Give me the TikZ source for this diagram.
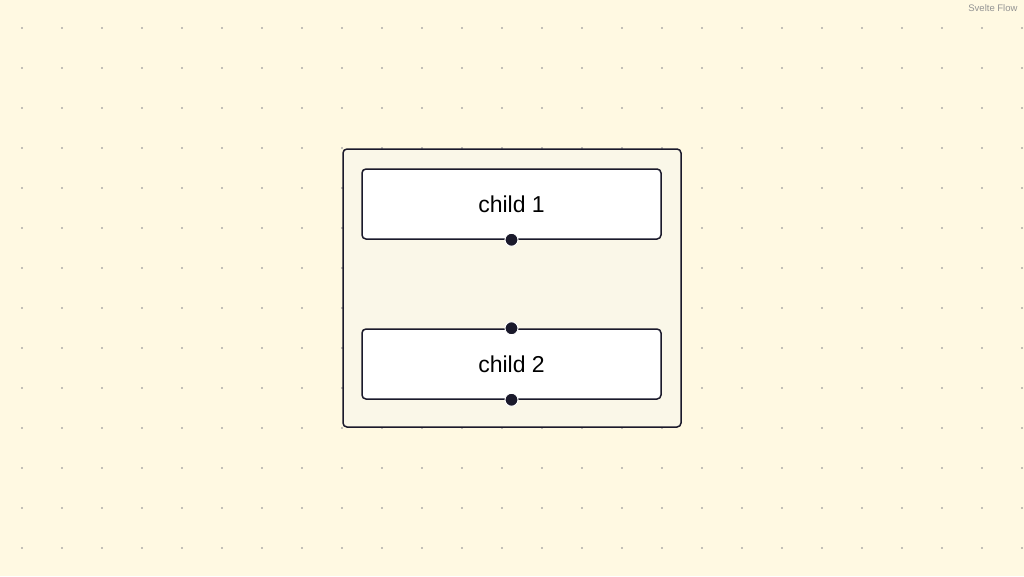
\documentclass[tikz,border=0pt]{standalone}
\usepackage{fontspec}
\setmainfont{Liberation Sans}
\usetikzlibrary{positioning}
\definecolor{canvas}{HTML}{FFF9E2}
\definecolor{groupfill}{HTML}{FAF7E8}
\definecolor{ink}{HTML}{1A192B}
\definecolor{griddot}{HTML}{85858C}
\tikzset{
  groupbox/.style={draw=ink, line width=1.5pt, fill=groupfill, rounded corners=4pt,
    minimum width=338pt, minimum height=278pt},
  childbox/.style={draw=ink, line width=1.5pt, fill=white, rounded corners=4pt,
    minimum width=299pt, minimum height=70pt, font=\fontsize{23}{27}\selectfont},
  handle/.style={circle, fill=ink, draw=white, line width=1pt, inner sep=0pt, minimum size=13pt}
}
\begin{document}
\begin{tikzpicture}[x=1pt,y=-1pt]
    \fill[canvas] (0,0) rectangle (1024,576);
    \useasboundingbox (0,0) rectangle (1024,576);
    % dotted background
    \foreach \i in {0,...,25}
      \foreach \j in {0,...,13}
        \fill[griddot] (22+40*\i,28+40*\j) circle (0.9pt);
    \node[anchor=north east, text=gray!85, font=\fontsize{9.5}{10}\selectfont] (credit) at (1021,1.5) {Svelte Flow};
    \node[groupbox] (group) at (512,288) {};
    \node[childbox] (childA) at (511.5,204) {child 1};
    \node[childbox, below=88.5pt of childA] (childB) {child 2};
    \node[handle] (outA) at (childA.south) {};
    \node[handle] (inB) at (childB.north) {};
    \node[handle] (outB) at (childB.south) {};
\end{tikzpicture}
\end{document}
